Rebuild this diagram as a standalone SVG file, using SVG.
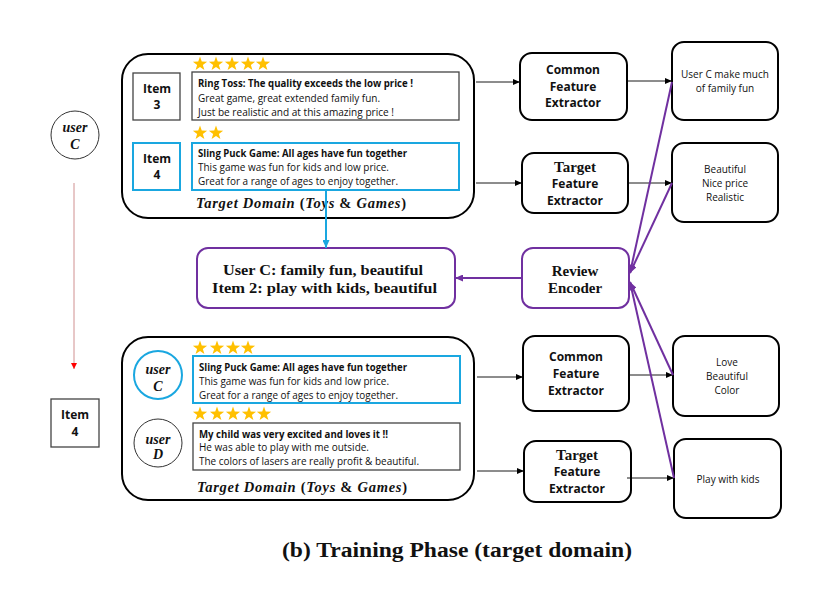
<svg xmlns="http://www.w3.org/2000/svg" xmlns:xlink="http://www.w3.org/1999/xlink" width="830" height="596" viewBox="0 0 830 596">
<style>
.dom{fill:#fff;stroke:#000;stroke-width:2}
.gbox{fill:#fff;stroke:#444;stroke-width:1.3}
.bbox{fill:#fff;stroke:#1AA7E0;stroke-width:2}
.nbox{fill:#fff;stroke:#000;stroke-width:2}
.pbox{fill:#fff;stroke:#7030A0;stroke-width:2}
.sans{font-family:"Open Sans","Liberation Sans",sans-serif;fill:#111}
.b{font-weight:bold}
.serif{font-family:"Liberation Serif",serif;fill:#111;font-weight:bold}
.it{font-style:italic}
.up{font-style:normal}
.c{text-anchor:middle}
.star{fill:#FFC000}
.blk{stroke:#000;stroke-width:0.9;fill:none}
.pur{stroke:#7030A0;stroke-width:2;fill:none}
</style>
<defs>
<polygon id="star" class="star" points="0,-7.5 1.76,-2.43 7.13,-2.32 2.85,0.93 4.41,6.07 0,3 -4.41,6.07 -2.85,0.93 -7.13,-2.32 -1.76,-2.43"/>
<marker id="ab" markerUnits="userSpaceOnUse" markerWidth="7" markerHeight="6" refX="7" refY="3" orient="auto"><path d="M0,0 L7,3 L0,6 z" fill="#000"/></marker>
<marker id="ap" markerUnits="userSpaceOnUse" markerWidth="8" markerHeight="7" refX="8" refY="3.5" orient="auto"><path d="M0,0 L8,3.5 L0,7 z" fill="#7030A0"/></marker>
<marker id="al" markerUnits="userSpaceOnUse" markerWidth="8" markerHeight="7" refX="8" refY="3.5" orient="auto"><path d="M0,0 L8,3.5 L0,7 z" fill="#1AA7E0"/></marker>
<marker id="ar" markerUnits="userSpaceOnUse" markerWidth="6" markerHeight="6" refX="6" refY="3" orient="auto"><path d="M0,0 L6,3 L0,6 z" fill="#FF0000"/></marker>
</defs>
<rect width="830" height="596" fill="#fff"/>

<g id="left-user-c">
<circle cx="75" cy="135" r="24" fill="#fff" stroke="#333" stroke-width="1"/>
<text class="serif it c" x="75" y="132" font-size="14">user</text>
<text class="serif it c" x="75" y="149" font-size="14">C</text>
</g>
<g id="left-item-4">
<rect x="51" y="399" width="48" height="48" class="gbox"/>
<text class="sans b c" x="75" y="419" font-size="12">Item</text>
<text class="sans b c" x="75" y="436" font-size="12">4</text>
</g>

<g id="top-domain">
<rect x="122" y="54" width="352" height="164" rx="26" class="dom"/>
<use xlink:href="#star" x="200" y="64"/><use xlink:href="#star" x="216" y="64"/><use xlink:href="#star" x="232" y="64"/><use xlink:href="#star" x="248" y="64"/><use xlink:href="#star" x="263" y="64"/>
<rect x="133" y="73" width="47" height="47" class="gbox"/>
<text class="sans b c" x="157" y="93" font-size="12">Item</text>
<text class="sans b c" x="157" y="109" font-size="12">3</text>
<rect x="192" y="72" width="267" height="48" class="gbox"/>
<text class="sans b" x="198" y="87" font-size="10.5" textLength="215" lengthAdjust="spacingAndGlyphs">Ring Toss: The quality exceeds the low price !</text>
<text class="sans" x="198" y="102" font-size="10.5" textLength="182" lengthAdjust="spacingAndGlyphs">Great game, great extended family fun.</text>
<text class="sans" x="198" y="116" font-size="10.5" textLength="196" lengthAdjust="spacingAndGlyphs">Just be realistic and at this amazing price !</text>
<use xlink:href="#star" x="200" y="133"/><use xlink:href="#star" x="216" y="133"/>
<rect x="133" y="143" width="47" height="47" class="bbox"/>
<text class="sans b c" x="157" y="163" font-size="12">Item</text>
<text class="sans b c" x="157" y="179" font-size="12">4</text>
<rect x="192" y="143" width="267" height="47" class="bbox"/>
<text class="sans b" x="198" y="157" font-size="10.5" textLength="209" lengthAdjust="spacingAndGlyphs">Sling Puck Game: All ages have fun together</text>
<text class="sans" x="198" y="171" font-size="10.5" textLength="191" lengthAdjust="spacingAndGlyphs">This game was fun for kids and low price.</text>
<text class="sans" x="198" y="185" font-size="10.5" textLength="200" lengthAdjust="spacingAndGlyphs">Great for a range of ages to enjoy together.</text>
<text class="serif it" x="196" y="208" font-size="14.5" textLength="210" lengthAdjust="spacing">Target Domain <tspan class="up">(</tspan>Toys <tspan class="up">&amp;</tspan> Games<tspan class="up">)</tspan></text>
</g>

<g id="bottom-domain">
<rect x="122" y="337" width="352" height="163" rx="26" class="dom"/>
<use xlink:href="#star" x="200" y="348"/><use xlink:href="#star" x="217" y="348"/><use xlink:href="#star" x="233" y="348"/><use xlink:href="#star" x="248" y="348"/>
<circle cx="158" cy="375" r="24" fill="#fff" stroke="#1AA7E0" stroke-width="2"/>
<text class="serif it c" x="158" y="374" font-size="14">user</text>
<text class="serif it c" x="158" y="391" font-size="14">C</text>
<rect x="193" y="356" width="267" height="47" class="bbox"/>
<text class="sans b" x="199" y="371" font-size="10.5" textLength="208" lengthAdjust="spacingAndGlyphs">Sling Puck Game: All ages have fun together</text>
<text class="sans" x="199" y="385" font-size="10.5" textLength="190" lengthAdjust="spacingAndGlyphs">This game was fun for kids and low price.</text>
<text class="sans" x="199" y="399" font-size="10.5" textLength="199" lengthAdjust="spacingAndGlyphs">Great for a range of ages to enjoy together.</text>
<use xlink:href="#star" x="200" y="414"/><use xlink:href="#star" x="217" y="414"/><use xlink:href="#star" x="233" y="414"/><use xlink:href="#star" x="249" y="414"/><use xlink:href="#star" x="264" y="414"/>
<circle cx="158" cy="443" r="24" fill="#fff" stroke="#333" stroke-width="1"/>
<text class="serif it c" x="158" y="444" font-size="14">user</text>
<text class="serif it c" x="158" y="459" font-size="14">D</text>
<rect x="193" y="423" width="267" height="47" class="gbox"/>
<text class="sans b" x="199" y="438" font-size="10.5" textLength="189" lengthAdjust="spacingAndGlyphs">My child was very excited and loves it !!</text>
<text class="sans" x="199" y="451" font-size="10.5" textLength="170" lengthAdjust="spacingAndGlyphs">He was able to play with me outside.</text>
<text class="sans" x="199" y="465" font-size="10.5" textLength="220" lengthAdjust="spacingAndGlyphs">The colors of lasers are really profit &amp; beautiful.</text>
<text class="serif it" x="197" y="492" font-size="14.5" textLength="210" lengthAdjust="spacing">Target Domain <tspan class="up">(</tspan>Toys <tspan class="up">&amp;</tspan> Games<tspan class="up">)</tspan></text>
</g>

<g id="summary">
<rect x="197" y="248" width="258" height="60" rx="11" class="pbox"/>
<text class="serif" x="223" y="275" font-size="15.5" textLength="200" lengthAdjust="spacingAndGlyphs">User C: family fun, beautiful</text>
<text class="serif" x="212" y="293" font-size="15.5" textLength="225" lengthAdjust="spacingAndGlyphs">Item 2: play with kids, beautiful</text>
</g>

<g id="review-encoder">
<rect x="522" y="248" width="107" height="60" rx="11" class="pbox"/>
<text class="serif c" x="575" y="276" font-size="15">Review</text>
<text class="serif c" x="575" y="293" font-size="15">Encoder</text>
</g>

<g id="cfe-top">
<rect x="520" y="53" width="107" height="67" rx="12" class="nbox"/>
<text class="sans b c" x="573" y="74" font-size="12">Common</text>
<text class="sans b c" x="573" y="91" font-size="12">Feature</text>
<text class="sans b c" x="573" y="107" font-size="12">Extractor</text>
</g>
<g id="tfe-top">
<rect x="522" y="153" width="106" height="60" rx="12" class="nbox"/>
<text class="serif c" x="575" y="172" font-size="15">Target</text>
<text class="sans b c" x="575" y="188" font-size="12">Feature</text>
<text class="sans b c" x="575" y="205" font-size="12">Extractor</text>
</g>
<g id="cfe-bottom">
<rect x="523" y="336" width="106" height="75" rx="12" class="nbox"/>
<text class="sans b c" x="576" y="361" font-size="12">Common</text>
<text class="sans b c" x="576" y="378" font-size="12">Feature</text>
<text class="sans b c" x="576" y="395" font-size="12">Extractor</text>
</g>
<g id="tfe-bottom">
<rect x="524" y="441" width="107" height="61" rx="12" class="nbox"/>
<text class="serif c" x="577" y="460" font-size="15">Target</text>
<text class="sans b c" x="577" y="476" font-size="12">Feature</text>
<text class="sans b c" x="577" y="493" font-size="12">Extractor</text>
</g>

<g id="out-1">
<rect x="672" y="42" width="106" height="78" rx="12" class="nbox"/>
<text class="sans c" x="725" y="78" font-size="10">User C make much</text>
<text class="sans c" x="725" y="92" font-size="10">of family fun</text>
</g>
<g id="out-2">
<rect x="672" y="143" width="106" height="79" rx="12" class="nbox"/>
<text class="sans c" x="725" y="173" font-size="10">Beautiful</text>
<text class="sans c" x="725" y="187" font-size="10">Nice price</text>
<text class="sans c" x="725" y="201" font-size="10">Realistic</text>
</g>
<g id="out-3">
<rect x="673" y="336" width="106" height="80" rx="12" class="nbox"/>
<text class="sans c" x="727" y="366" font-size="10">Love</text>
<text class="sans c" x="727" y="380" font-size="10">Beautiful</text>
<text class="sans c" x="727" y="394" font-size="10">Color</text>
</g>
<g id="out-4">
<rect x="674" y="439" width="107" height="79" rx="12" class="nbox"/>
<text class="sans c" x="728" y="483" font-size="10">Play with kids</text>
</g>

<g id="connectors">
<line x1="74" y1="183" x2="74" y2="369" stroke="#D09090" stroke-width="1" marker-end="url(#ar)"/>
<line x1="326" y1="190" x2="326" y2="248" stroke="#1AA7E0" stroke-width="2" marker-end="url(#al)"/>
<line x1="522" y1="278" x2="455" y2="278" class="pur" marker-end="url(#ap)"/>
<line x1="476" y1="82" x2="520" y2="82" class="blk" marker-end="url(#ab)"/>
<line x1="627" y1="81" x2="672" y2="81" class="blk" marker-end="url(#ab)"/>
<line x1="476" y1="183" x2="522" y2="183" class="blk" marker-end="url(#ab)"/>
<line x1="628" y1="183" x2="672" y2="183" class="blk" marker-end="url(#ab)"/>
<line x1="477" y1="377" x2="523" y2="377" class="blk" marker-end="url(#ab)"/>
<line x1="629" y1="375" x2="673" y2="375" class="blk" marker-end="url(#ab)"/>
<line x1="477" y1="471" x2="524" y2="471" class="blk" marker-end="url(#ab)"/>
<line x1="627" y1="478" x2="674" y2="478" class="blk" marker-end="url(#ab)"/>
<line x1="672" y1="82" x2="630" y2="273" class="pur" marker-end="url(#ap)"/>
<line x1="672" y1="183" x2="630" y2="273" class="pur" marker-end="url(#ap)"/>
<line x1="673" y1="375" x2="630" y2="282" class="pur" marker-end="url(#ap)"/>
<line x1="674" y1="478" x2="630" y2="282" class="pur" marker-end="url(#ap)"/>
</g>

<text id="caption" class="serif c" x="457" y="557" font-size="20" textLength="350" lengthAdjust="spacingAndGlyphs">(b) Training Phase (target domain)</text>
</svg>
